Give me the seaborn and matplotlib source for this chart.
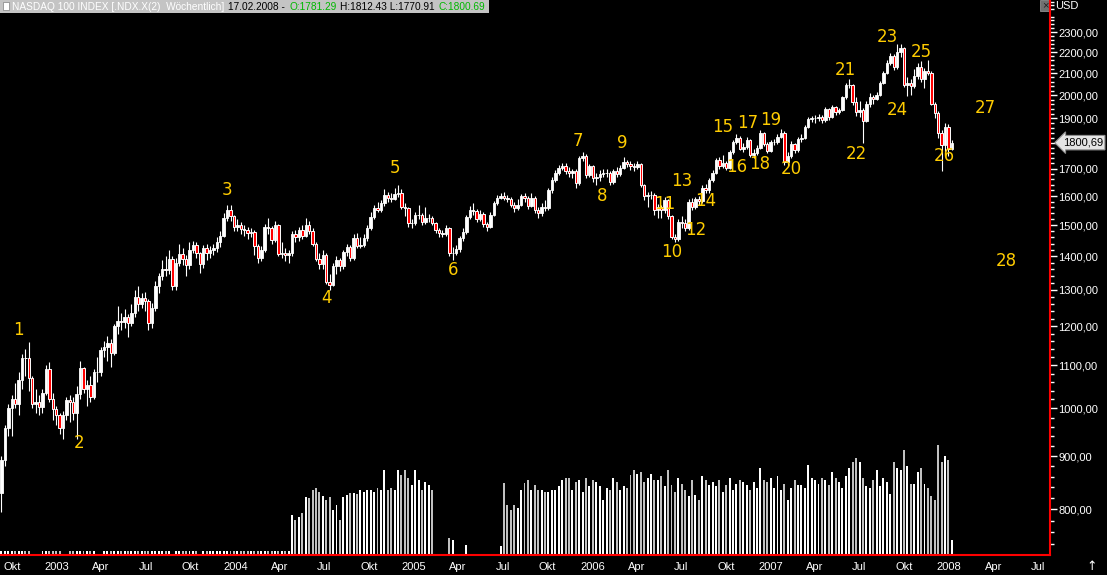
import pandas as pd
import matplotlib
matplotlib.use("Agg")
import matplotlib.pyplot as plt
import matplotlib.dates as mdates
import matplotlib.transforms as mtransforms
from matplotlib.patches import Rectangle
from matplotlib.ticker import FixedLocator, FuncFormatter, NullFormatter
import seaborn as sns

# weekly NASDAQ 100 candles (open = previous close)
first_open = 830
last_week = "2008-02-11"

closes = [
    892, 958, 1000, 1021, 1010, 1065, 1119, 1118, 1070, 1010,
    1015, 1003, 1035, 1091, 1021, 998, 985, 958, 986, 1019,
    1015, 990, 1032, 1093, 1045, 1053, 1025, 1083, 1083, 1138,
    1145, 1155, 1130, 1199, 1213, 1210, 1225, 1207, 1234, 1279,
    1260, 1276, 1267, 1207, 1250, 1310, 1340, 1360, 1357, 1393,
    1310, 1380, 1408, 1393, 1373, 1420, 1435, 1410, 1376, 1427,
    1410, 1420, 1426, 1445, 1465, 1524, 1553, 1530, 1495, 1500,
    1487, 1484, 1474, 1478, 1433, 1396, 1420, 1495, 1490, 1452,
    1500, 1408, 1412, 1405, 1412, 1472, 1462, 1483, 1465, 1500,
    1481, 1440, 1393, 1376, 1405, 1323, 1315, 1370, 1390, 1370,
    1413, 1429, 1396, 1458, 1433, 1436, 1458, 1490, 1527, 1557,
    1553, 1575, 1604, 1594, 1590, 1606, 1610, 1562, 1557, 1506,
    1506, 1535, 1535, 1512, 1524, 1524, 1506, 1484, 1474, 1472,
    1490, 1410, 1410, 1423, 1458, 1478, 1527, 1550, 1547, 1521,
    1537, 1503, 1495, 1535, 1575, 1594, 1600, 1594, 1590, 1570,
    1557, 1570, 1600, 1592, 1565, 1594, 1553, 1540, 1562, 1557,
    1620, 1658, 1685, 1702, 1710, 1690, 1685, 1692, 1646, 1740,
    1748, 1677, 1710, 1666, 1670, 1680, 1685, 1685, 1650, 1692,
    1680, 1702, 1725, 1718, 1710, 1706, 1718, 1640, 1600, 1603,
    1603, 1550, 1560, 1550, 1586, 1530, 1462, 1455, 1512, 1506,
    1490, 1580, 1560, 1590, 1583, 1630, 1620, 1658, 1685, 1733,
    1710, 1720, 1702, 1763, 1803, 1821, 1776, 1785, 1811, 1752,
    1760, 1780, 1840, 1795, 1769, 1803, 1803, 1825, 1840, 1725,
    1748, 1795, 1773, 1815, 1821, 1865, 1897, 1900, 1900, 1905,
    1893, 1939, 1905, 1947, 1927, 1935, 1990, 2045, 2045, 1968,
    1927, 1935, 1890, 1960, 1990, 1985, 2003, 2055, 2100, 2150,
    2180, 2127, 2200, 2220, 2045, 2055, 2043, 2085, 2130, 2072,
    2110, 2100, 1960, 1922, 1840, 1790, 1865, 1776, 1800.69,
]

highs = [
    900, 965, 1010, 1030, 1058, 1085, 1128, 1140, 1158, 1075,
    1045, 1030, 1045, 1100, 1108, 1035, 1005, 990, 995, 1025,
    1030, 1025, 1052, 1110, 1095, 1065, 1075, 1090, 1120, 1145,
    1160, 1175, 1165, 1205, 1255, 1235, 1245, 1232, 1260, 1300,
    1310, 1292, 1295, 1275, 1262, 1325, 1350, 1390, 1400, 1420,
    1400, 1395, 1440, 1425, 1405, 1445, 1450, 1445, 1415, 1435,
    1440, 1432, 1440, 1460, 1480, 1540, 1570, 1568, 1535, 1520,
    1510, 1500, 1495, 1490, 1485, 1440, 1432, 1505, 1525, 1498,
    1515, 1505, 1445, 1425, 1420, 1480, 1485, 1495, 1500, 1525,
    1515, 1490, 1445, 1410, 1420, 1410, 1345, 1380, 1400, 1395,
    1420, 1440, 1435, 1470, 1475, 1460, 1470, 1500, 1545, 1570,
    1580, 1585, 1625, 1615, 1612, 1630, 1640, 1625, 1575, 1562,
    1520, 1545, 1570, 1540, 1560, 1538, 1532, 1510, 1492, 1485,
    1500, 1495, 1430, 1435, 1465, 1490, 1535, 1565, 1575, 1555,
    1550, 1545, 1510, 1545, 1582, 1605, 1612, 1615, 1605, 1595,
    1578, 1590, 1608, 1610, 1600, 1612, 1600, 1560, 1575, 1585,
    1628, 1668, 1695, 1715, 1720, 1722, 1705, 1700, 1698, 1750,
    1765, 1755, 1718, 1715, 1685, 1695, 1700, 1698, 1692, 1700,
    1705, 1712, 1745, 1732, 1730, 1722, 1728, 1722, 1645, 1615,
    1618, 1610, 1572, 1570, 1598, 1590, 1535, 1470, 1520, 1530,
    1520, 1590, 1592, 1598, 1600, 1640, 1645, 1665, 1695, 1740,
    1745, 1752, 1730, 1770, 1812, 1835, 1828, 1800, 1825, 1815,
    1775, 1790, 1850, 1845, 1805, 1812, 1815, 1835, 1855, 1848,
    1762, 1808, 1800, 1822, 1835, 1872, 1905, 1912, 1915, 1918,
    1915, 1950, 1945, 1955, 1952, 1945, 1998, 2055, 2075, 2050,
    1990, 1975, 1945, 1975, 2010, 2000, 2012, 2065, 2110, 2160,
    2195, 2190, 2240, 2238, 2225, 2080, 2072, 2120, 2148, 2155,
    2125, 2160, 2112, 1970, 1930, 1850, 1880, 1878, 1812.43,
]

lows = [
    795, 880, 940, 940, 1000, 985, 1045, 1075, 1040, 1000,
    990, 985, 990, 1030, 1015, 975, 965, 945, 935, 975,
    970, 975, 935, 1020, 1035, 1005, 1015, 1020, 1060, 1075,
    1120, 1110, 1095, 1125, 1180, 1190, 1195, 1170, 1200, 1225,
    1240, 1250, 1240, 1190, 1195, 1240, 1290, 1330, 1340, 1345,
    1300, 1300, 1370, 1375, 1340, 1360, 1410, 1395, 1350, 1365,
    1390, 1395, 1405, 1415, 1430, 1460, 1515, 1515, 1480, 1480,
    1470, 1465, 1455, 1460, 1405, 1380, 1385, 1415, 1470, 1440,
    1445, 1400, 1395, 1385, 1380, 1400, 1445, 1450, 1455, 1460,
    1470, 1432, 1385, 1360, 1360, 1318, 1300, 1310, 1345, 1355,
    1360, 1400, 1385, 1390, 1425, 1425, 1428, 1450, 1485, 1520,
    1545, 1545, 1565, 1580, 1580, 1585, 1595, 1555, 1530, 1495,
    1490, 1500, 1520, 1500, 1505, 1510, 1500, 1475, 1462, 1460,
    1465, 1400, 1390, 1405, 1415, 1450, 1470, 1520, 1535, 1510,
    1515, 1495, 1480, 1490, 1530, 1570, 1588, 1585, 1578, 1560,
    1545, 1550, 1565, 1580, 1555, 1560, 1540, 1525, 1530, 1548,
    1550, 1612, 1650, 1675, 1695, 1680, 1670, 1665, 1630, 1640,
    1730, 1665, 1670, 1650, 1640, 1655, 1670, 1668, 1640, 1645,
    1670, 1672, 1698, 1705, 1695, 1692, 1700, 1632, 1585, 1560,
    1590, 1535, 1525, 1525, 1540, 1520, 1455, 1445, 1450, 1490,
    1480, 1485, 1550, 1555, 1570, 1575, 1610, 1612, 1650, 1680,
    1700, 1702, 1695, 1698, 1755, 1795, 1770, 1765, 1775, 1745,
    1740, 1752, 1775, 1788, 1760, 1765, 1790, 1795, 1820, 1715,
    1710, 1740, 1760, 1765, 1805, 1815, 1860, 1885, 1880, 1890,
    1880, 1885, 1895, 1900, 1915, 1920, 1930, 1985, 2030, 1955,
    1910, 1905, 1800, 1885, 1950, 1960, 1978, 1998, 2050, 2095,
    2140, 2115, 2120, 2175, 2035, 1995, 2000, 2030, 2075, 2060,
    2030, 2090, 1955, 1900, 1820, 1690, 1760, 1750, 1770.91,
]

# relative weekly volume (no scale shown on the chart)
volumes = [
    4, 4, 4, 4, 4, 4, 4, 4, 4, 0,
    0, 0, 4, 4, 4, 4, 4, 4, 0, 0,
    4, 4, 4, 4, 4, 4, 4, 4, 0, 0,
    4, 4, 4, 4, 4, 4, 4, 4, 4, 4,
    4, 4, 4, 4, 4, 4, 4, 4, 4, 4,
    0, 4, 4, 4, 4, 4, 4, 4, 0, 4,
    4, 4, 4, 4, 4, 4, 4, 4, 4, 4,
    4, 4, 4, 4, 4, 4, 4, 4, 4, 4,
    4, 4, 4, 4, 4, 40, 35, 38, 42, 58,
    57, 65, 67, 63, 59, 55, 58, 45, 50, 35,
    58, 60, 62, 62, 61, 65, 63, 65, 65, 63,
    67, 65, 85, 65, 67, 65, 85, 80, 85, 77,
    70, 85, 75, 65, 73, 70, 65, 0, 0, 0,
    0, 17, 15, 0, 0, 0, 10, 0, 0, 0,
    0, 0, 0, 0, 0, 0, 9, 72, 50, 45,
    50, 47, 65, 72, 75, 65, 70, 65, 65, 63,
    63, 65, 65, 69, 75, 77, 77, 65, 73, 75,
    63, 77, 69, 75, 73, 69, 55, 67, 65, 77,
    73, 65, 69, 67, 80, 85, 81, 83, 73, 77,
    81, 75, 75, 79, 69, 85, 70, 63, 77, 71,
    65, 59, 75, 60, 55, 79, 75, 70, 73, 69,
    75, 63, 70, 77, 65, 71, 75, 73, 70, 65,
    73, 67, 87, 75, 73, 77, 67, 79, 65, 71,
    55, 67, 75, 70, 70, 67, 90, 77, 75, 71,
    77, 75, 70, 83, 77, 73, 67, 79, 87, 93,
    97, 93, 77, 69, 67, 75, 85, 69, 77, 73,
    61, 93, 87, 85, 105, 89, 71, 71, 83, 87,
    71, 67, 59, 55, 110, 93, 99, 95, 15,
]

quarter_labels = ["Okt", "2003", "Apr", "Jul", "Okt", "2004", "Apr", "Jul",
                  "Okt", "2005", "Apr", "Jul", "Okt", "2006", "Apr", "Jul",
                  "Okt", "2007", "Apr", "Jul", "Okt", "2008", "Apr", "Jul"]
price_ticks = [800, 900, 1000, 1100, 1200, 1300, 1400, 1500, 1600, 1700,
               1800, 1900, 2000, 2100, 2200, 2300]

# Elliott-style count written on the chart
wave_labels = [str(i) for i in range(1, 29)]
wave_dates = ["2002-11-17", "2003-03-22", "2004-01-19", "2004-08-09", "2004-12-28",
              "2005-04-26", "2006-01-06", "2006-02-25", "2006-04-07", "2006-07-18",
              "2006-07-04", "2006-09-05", "2006-08-07", "2006-09-26", "2006-10-30",
              "2006-11-28", "2006-12-19", "2007-01-14", "2007-02-06", "2007-03-19",
              "2007-07-07", "2007-07-30", "2007-10-03", "2007-10-22", "2007-12-10",
              "2008-01-26", "2008-04-19", "2008-06-01"]
wave_prices = [1190, 926, 1621, 1277, 1702, 1359, 1807, 1600, 1799, 1414,
               1572, 1484, 1654, 1582, 1864, 1706, 1881, 1718, 1893, 1699,
               2115, 1756, 2275, 1935, 2200, 1748, 1944, 1386]

header_parts = [("NASDAQ 100 INDEX [.NDX.X(2)  Wöchentlich]", "white"),
                ("17.02.2008 -", "black"),
                ("O:1781.29", "#00b800"),
                ("H:1812.43 L:1770.91", "black"),
                ("C:1800.69", "#00b800")]
last_close = closes[-1]

sns.set_theme(style="dark", rc={"axes.facecolor": "black", "figure.facecolor": "black",
                                "axes.grid": False})
plt.rcParams["font.family"] = ["Liberation Sans", "DejaVu Sans"]

dates = pd.date_range(end=last_week, periods=len(closes), freq="7D")
df = pd.DataFrame({"date": dates, "open": [first_open] + closes[:-1], "high": highs,
                   "low": lows, "close": closes, "volume": volumes})
df["up"] = df["close"] >= df["open"]
up = df[df["up"]]
down = df[~df["up"]]

W, H = 1107, 575
fig = plt.figure(figsize=(W / 100, H / 100), dpi=100, facecolor="black")
ax = fig.add_axes([0, 20 / H, 1050 / W, 555 / H])
axv = ax.twinx()
ax.set_zorder(axv.get_zorder() + 1)
ax.patch.set_visible(False)

# volume at the bottom
axv.bar(up["date"], up["volume"], width=4, color="white", linewidth=0)
axv.bar(down["date"], down["volume"], width=4, color="#c0c0c0", linewidth=0)
axv.set_ylim(0, 555)
axv.set_yticks([])
for s in axv.spines.values():
    s.set_visible(False)

# candles
ax.set_yscale("log")
ax.vlines(df["date"], df["low"], df["high"], color="white", lw=0.8, zorder=2)
ax.bar(up["date"], up["close"] - up["open"], bottom=up["open"], width=5,
       color="white", edgecolor="white", lw=0.6, zorder=3)
ax.bar(down["date"], down["open"] - down["close"], bottom=down["close"], width=5,
       color="#ff0000", edgecolor="white", lw=0.7, zorder=3)

for lab, d, p in zip(wave_labels, wave_dates, wave_prices):
    ax.text(pd.Timestamp(d), p, lab, color="#ffcc00", fontsize=12, ha="center",
            va="center", family=["Liberation Sans Narrow", "DejaVu Sans"], zorder=5)

ax.set_ylim(723, 2469)
ax.set_xlim(pd.Timestamp("2002-10-11"), pd.Timestamp("2008-08-30"))


def price_fmt(v, pos):
    # the 1800 label sits under the last-price tag
    if v == 1800:
        return ""
    return f"{v:.2f}".replace(".", ",")


# price scale on the right
ax.yaxis.tick_right()
ax.yaxis.set_major_locator(FixedLocator(price_ticks))
ax.yaxis.set_major_formatter(FuncFormatter(price_fmt))
ax.yaxis.set_minor_locator(FixedLocator([v for v in range(740, 2480, 20) if v % 100]))
ax.yaxis.set_minor_formatter(NullFormatter())
ax.tick_params(axis="y", which="major", colors="white", length=5, width=1, pad=1, labelsize=8)
ax.tick_params(axis="y", which="minor", colors="white", length=3, width=1)

# quarter ticks, labels in between
qstarts = pd.date_range("2002-10-01", "2008-07-01", freq="QS")
ax.xaxis.set_major_locator(FixedLocator(mdates.date2num(qstarts)))
ax.xaxis.set_major_formatter(NullFormatter())
ax.set_xticks(mdates.date2num(qstarts + pd.Timedelta(days=35)), labels=quarter_labels, minor=True)
ax.tick_params(axis="x", which="major", colors="white", length=4, width=1)
ax.tick_params(axis="x", which="minor", length=0, pad=5, labelcolor="white", labelsize=8)

for side in ["top", "left"]:
    ax.spines[side].set_visible(False)
for side in ["right", "bottom"]:
    ax.spines[side].set_color("#ff0000")
    ax.spines[side].set_linewidth(1.5)

# last price tag
tag_tr = mtransforms.blended_transform_factory(ax.transAxes, ax.transData)
ax.text(1.012, last_close, f"{last_close:.2f}".replace(".", ","), transform=tag_tr,
        ha="left", va="center", fontsize=8, color="black", zorder=10, clip_on=False,
        bbox=dict(boxstyle="larrow,pad=0.2", fc="#e4e4e4", ec="#909090", lw=0.8))

fig.text(1055 / W, 1 - 6 / H, "USD", color="white", fontsize=8, va="center", ha="left")
fig.text(1092 / W, 8 / H, "↑", color="white", fontsize=9, va="center", ha="center",
         family=["DejaVu Sans"])
fig.add_artist(Rectangle((1040 / W, 1 - 11 / H), 10 / W, 11 / H, transform=fig.transFigure,
                         fc="#707070", ec="#a0a0a0", lw=0.5))
fig.text(1045 / W, 1 - 5.5 / H, "×", color="#202020", fontsize=8, va="center", ha="center")

# header bar
fig.canvas.draw()
renderer = fig.canvas.get_renderer()
fig.add_artist(Rectangle((3 / W, 1 - 10 / H), 6 / W, 8 / H, transform=fig.transFigure,
                         fc="white", ec="#808080", lw=0.5, zorder=11))
x = 12
for txt, col in header_parts:
    t = fig.text(x / W, 1 - 6.5 / H, txt, color=col, fontsize=7.3, va="center", ha="left", zorder=11)
    x = t.get_window_extent(renderer).x1 + 4
fig.add_artist(Rectangle((0, 1 - 13 / H), (x - 1) / W, 13 / H, transform=fig.transFigure,
                         fc="#c4c4c4", ec="none", zorder=10))

fig.savefig("out.png", dpi=100, facecolor="black")
